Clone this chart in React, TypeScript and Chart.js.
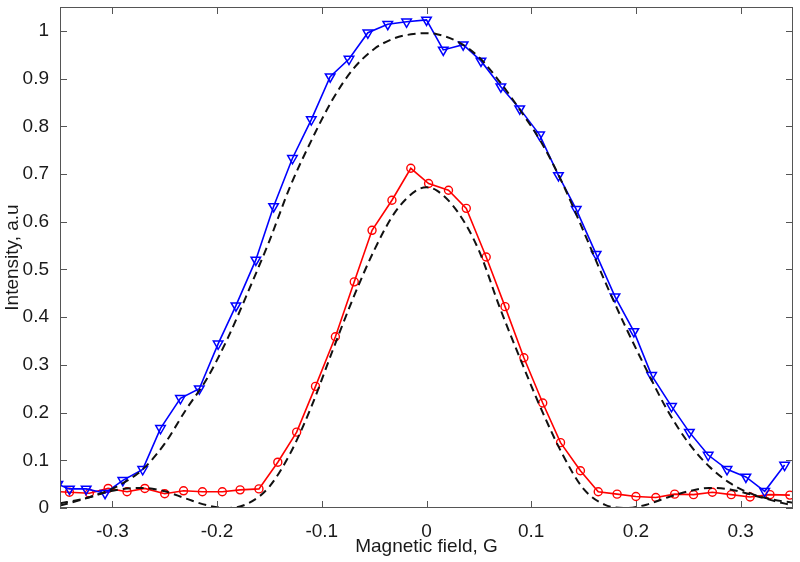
import { useEffect, useRef } from "react";
import { Chart, registerables } from "chart.js";

Chart.register(...registerables);

// ---- data ----
const xTicks = [-0.3, -0.2, -0.1, 0, 0.1, 0.2, 0.3];
const yTicks = [0, 0.1, 0.2, 0.3, 0.4, 0.5, 0.6, 0.7, 0.8, 0.9, 1];

const blueX = [-0.352, -0.341, -0.325, -0.307, -0.29, -0.271, -0.254, -0.235, -0.217, -0.199, -0.182, -0.163, -0.146, -0.128, -0.11, -0.092, -0.074, -0.056, -0.037, -0.019, 0.0, 0.016, 0.035, 0.052, 0.071, 0.089, 0.108, 0.126, 0.143, 0.162, 0.18, 0.198, 0.215, 0.234, 0.251, 0.269, 0.287, 0.305, 0.323, 0.342];
const blueY = [0.05, 0.04, 0.04, 0.031, 0.058, 0.081, 0.167, 0.23, 0.25, 0.344, 0.424, 0.52, 0.632, 0.733, 0.814, 0.904, 0.941, 0.996, 1.014, 1.019, 1.023, 0.96, 0.971, 0.937, 0.883, 0.837, 0.782, 0.697, 0.626, 0.532, 0.443, 0.37, 0.278, 0.213, 0.159, 0.111, 0.081, 0.065, 0.035, 0.09];

const redX = [-0.358, -0.341, -0.322, -0.304, -0.286, -0.269, -0.25, -0.232, -0.214, -0.195, -0.178, -0.16, -0.142, -0.124, -0.106, -0.087, -0.069, -0.052, -0.033, -0.015, 0.002, 0.021, 0.038, 0.057, 0.075, 0.093, 0.111, 0.128, 0.147, 0.164, 0.182, 0.2, 0.219, 0.237, 0.255, 0.273, 0.291, 0.309, 0.328, 0.347];
const redY = [0.035, 0.033, 0.031, 0.041, 0.034, 0.041, 0.03, 0.036, 0.034, 0.034, 0.038, 0.04, 0.096, 0.159, 0.255, 0.359, 0.474, 0.582, 0.645, 0.712, 0.68, 0.666, 0.628, 0.526, 0.422, 0.315, 0.22, 0.137, 0.078, 0.034, 0.029, 0.024, 0.022, 0.029, 0.028, 0.033, 0.028, 0.023, 0.028, 0.027];

const wideFitX = [-0.35, -0.33, -0.31, -0.29, -0.27, -0.25, -0.23, -0.21, -0.19, -0.17, -0.15, -0.13, -0.11, -0.09, -0.07, -0.05, -0.03, -0.01, 0, 0.01, 0.03, 0.05, 0.07, 0.09, 0.11, 0.13, 0.15, 0.17, 0.19, 0.21, 0.23, 0.25, 0.27, 0.29, 0.31, 0.33, 0.35];
const wideFitY = [0.01, 0.018, 0.031, 0.052, 0.083, 0.135, 0.205, 0.27, 0.355, 0.455, 0.56, 0.675, 0.77, 0.855, 0.92, 0.962, 0.985, 0.994, 0.995, 0.993, 0.977, 0.945, 0.893, 0.832, 0.765, 0.68, 0.58, 0.477, 0.38, 0.29, 0.205, 0.137, 0.087, 0.052, 0.03, 0.018, 0.011];

const narrowFitX = [-0.35, -0.33, -0.31, -0.29, -0.27, -0.25, -0.23, -0.21, -0.19, -0.17, -0.15, -0.13, -0.11, -0.09, -0.07, -0.05, -0.03, -0.01, 0, 0.01, 0.03, 0.05, 0.07, 0.09, 0.11, 0.13, 0.15, 0.17, 0.19, 0.21, 0.23, 0.25, 0.27, 0.29, 0.31, 0.33, 0.35];
const narrowFitY = [0.005, 0.017, 0.031, 0.04, 0.042, 0.035, 0.02, 0.006, 0.0, 0.01, 0.045, 0.115, 0.212, 0.328, 0.44, 0.54, 0.62, 0.665, 0.672, 0.665, 0.62, 0.54, 0.42, 0.31, 0.205, 0.112, 0.04, 0.007, 0.0, 0.007, 0.022, 0.035, 0.042, 0.039, 0.028, 0.016, 0.005];

const pts = (xs: number[], ys: number[]) => xs.map((x, i) => ({ x, y: ys[i] }));

const FONT_FAMILY = "'Liberation Sans', Arial, Helvetica, sans-serif";
const TEXT_COLOR = "#1a1a1a";
const FRAME_COLOR = "#555555";

const fmt = (v: number) => {
  const r = Math.round(v * 10) / 10;
  return r === 0 ? "0" : String(r);
};

const framePlugin = {
  id: "matlabFrame",
  afterDatasetsDraw(chart: any) {
    const { ctx, chartArea: a, scales } = chart;
    const tl = 7;
    ctx.save();
    ctx.strokeStyle = FRAME_COLOR;
    ctx.lineWidth = 1;
    ctx.beginPath();
    xTicks.forEach((v) => {
      const px = Math.round(scales.x.getPixelForValue(v)) + 0.5;
      ctx.moveTo(px, a.bottom);
      ctx.lineTo(px, a.bottom - tl);
      ctx.moveTo(px, a.top);
      ctx.lineTo(px, a.top + tl);
    });
    yTicks.forEach((v) => {
      const py = Math.round(scales.y.getPixelForValue(v)) + 0.5;
      ctx.moveTo(a.left, py);
      ctx.lineTo(a.left + tl, py);
      ctx.moveTo(a.right, py);
      ctx.lineTo(a.right - tl, py);
    });
    ctx.stroke();
    ctx.strokeRect(a.left + 0.5, a.top + 0.5, a.right - a.left - 1, a.bottom - a.top - 1);
    ctx.restore();
  },
};

export default function App() {
  const ref = useRef<HTMLCanvasElement>(null);

  useEffect(() => {
    const font = { family: FONT_FAMILY, size: 19 };
    const chart = new Chart(ref.current!, {
      type: "scatter",
      data: {
        datasets: [
          {
            label: "fit wide",
            data: pts(wideFitX, wideFitY),
            showLine: true,
            borderColor: "#111111",
            borderWidth: 2,
            borderDash: [8, 5],
            pointRadius: 0,
            cubicInterpolationMode: "monotone",
            clip: 0,
          },
          {
            label: "fit narrow",
            data: pts(narrowFitX, narrowFitY),
            showLine: true,
            borderColor: "#111111",
            borderWidth: 2,
            borderDash: [8, 5],
            pointRadius: 0,
            cubicInterpolationMode: "monotone",
            clip: 0,
          },
          {
            label: "blue",
            data: pts(blueX, blueY),
            showLine: true,
            borderColor: "#0000ff",
            borderWidth: 1.6,
            pointStyle: "triangle",
            pointRotation: 180,
            pointRadius: 5.5,
            pointBorderWidth: 1.5,
            pointBorderColor: "#0000ff",
            pointBackgroundColor: "rgba(0,0,0,0)",
            clip: 0,
          },
          {
            label: "red",
            data: pts(redX, redY),
            showLine: true,
            borderColor: "#ff0000",
            borderWidth: 1.6,
            pointStyle: "circle",
            pointRadius: 4,
            pointBorderWidth: 1.4,
            pointBorderColor: "#ff0000",
            pointBackgroundColor: "rgba(0,0,0,0)",
            clip: 0,
          },
        ],
      } as any,
      options: {
        animation: false,
        responsive: false,
        maintainAspectRatio: false,
        layout: { padding: { top: 5, right: 7, left: 0, bottom: 0 } },
        plugins: { legend: { display: false }, tooltip: { enabled: false } },
        scales: {
          x: {
            type: "linear",
            min: -0.35,
            max: 0.35,
            grid: { display: false },
            border: { display: false },
            afterBuildTicks: (s: any) => {
              s.ticks = xTicks.map((v) => ({ value: v }));
            },
            afterFit: (s: any) => {
              s.height = 54;
              s.paddingLeft = 0;
              s.paddingRight = 0;
            },
            ticks: {
              font,
              color: TEXT_COLOR,
              padding: 4,
              autoSkip: false,
              maxRotation: 0,
              callback: (v: any) => fmt(Number(v)),
            },
            title: {
              display: true,
              text: "Magnetic field, G",
              font,
              color: TEXT_COLOR,
              padding: { top: 0, bottom: 4 },
            },
          },
          y: {
            type: "linear",
            min: 0,
            max: 1.05,
            grid: { display: false },
            border: { display: false },
            afterBuildTicks: (s: any) => {
              s.ticks = yTicks.map((v) => ({ value: v }));
            },
            afterFit: (s: any) => {
              s.width = 60;
              s.paddingTop = 0;
              s.paddingBottom = 0;
            },
            ticks: {
              font,
              color: TEXT_COLOR,
              padding: 3,
              autoSkip: false,
              callback: (v: any) => fmt(Number(v)),
            },
            title: {
              display: true,
              text: "Intensity, a.u",
              font,
              color: TEXT_COLOR,
              padding: { top: 1, bottom: 0 },
            },
          },
        },
      } as any,
      plugins: [framePlugin],
    });
    return () => chart.destroy();
  }, []);

  return (
    <div style={{ position: "fixed", left: 0, top: 0, width: 800, height: 562, background: "#ffffff" }}>
      <canvas ref={ref} width={800} height={562} style={{ display: "block", width: 800, height: 562 }} />
    </div>
  );
}
